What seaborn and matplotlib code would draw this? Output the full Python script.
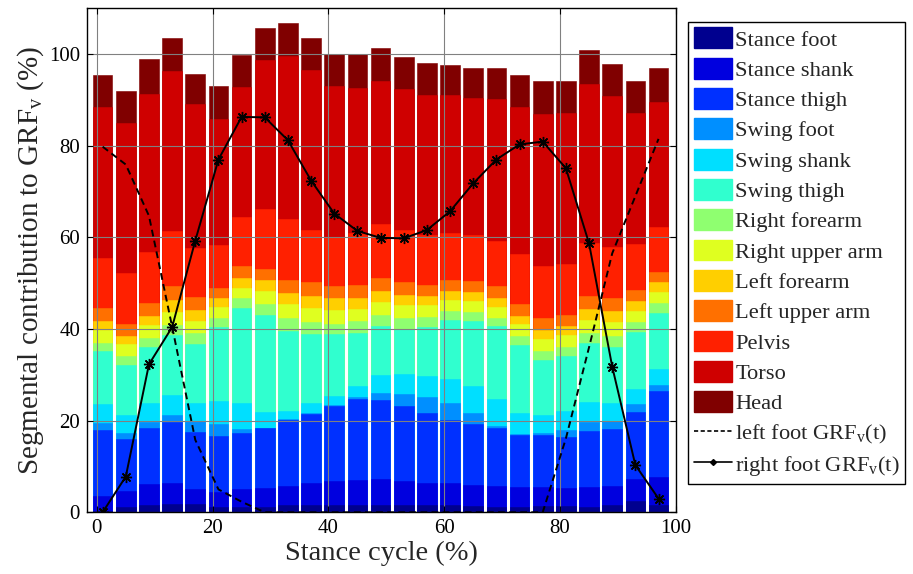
import numpy as np
import pandas as pd
import matplotlib
matplotlib.use("Agg")
import matplotlib.pyplot as plt
import seaborn as sns
from matplotlib.patches import Patch
from matplotlib.lines import Line2D

# ---------------- data ----------------
stance_cycle = [1, 5, 9, 13, 17, 21, 25, 29, 33, 37, 41, 45, 49,
                53, 57, 61, 65, 69, 73, 77, 81, 85, 89, 93, 97]

segment_names = ["Stance foot", "Stance shank", "Stance thigh", "Swing foot",
                 "Swing shank", "Swing thigh", "Right forearm", "Right upper arm",
                 "Left forearm", "Left upper arm", "Pelvis", "Torso", "Head"]

# cumulative level (%) reached at the top of each segment
level_stance_foot = [0.3, 1.2, 1.6, 1.8, 1.8, 1.2, 1.2, 1.2, 1.5, 1.5, 1.7, 1.6, 1.7,
                     1.6, 1.6, 1.6, 1.4, 1.2, 1.1, 1.4, 1.3, 1.2, 1.7, 2.5, 1.7]
level_stance_shank = [3.6, 4.7, 6.1, 6.3, 5.0, 4.5, 5.0, 5.4, 5.8, 6.5, 6.8, 7.1, 7.3,
                      6.8, 6.5, 6.3, 6.0, 5.7, 5.6, 5.6, 5.3, 5.6, 5.7, 7.3, 7.6]
level_stance_thigh = [17.9, 16.0, 18.3, 19.6, 17.6, 16.7, 17.2, 18.3, 20.1, 21.4, 23.3, 24.7, 24.5,
                      23.1, 21.6, 20.1, 19.3, 18.5, 16.9, 16.9, 16.4, 17.8, 18.2, 22.0, 26.5]
level_swing_foot = [19.5, 17.2, 19.8, 21.2, 20.0, 19.2, 18.1, 18.5, 20.3, 21.6, 23.4, 25.2, 26.1,
                    25.8, 25.2, 23.8, 21.6, 18.8, 17.0, 17.2, 18.0, 19.6, 20.0, 23.6, 27.8]
level_swing_shank = [23.6, 21.2, 23.9, 25.6, 23.9, 24.3, 23.8, 22.0, 22.2, 23.8, 25.4, 27.6, 30.0,
                     30.2, 29.8, 29.2, 27.6, 24.7, 21.6, 21.2, 22.1, 24.1, 23.9, 26.9, 31.2]
level_swing_thigh = [35.1, 32.2, 36.1, 38.8, 36.7, 40.4, 44.5, 43.1, 39.6, 38.9, 38.9, 39.2, 40.7,
                     40.1, 40.5, 42.0, 41.8, 40.7, 36.5, 33.2, 34.1, 36.9, 36.1, 39.4, 43.6]
level_right_forearm = [37.0, 34.1, 38.0, 40.9, 39.1, 42.3, 46.7, 45.5, 42.3, 41.5, 41.1, 41.7, 43.1,
                       42.5, 42.7, 43.9, 43.8, 42.5, 38.5, 35.1, 36.1, 39.1, 38.5, 41.5, 45.6]
level_right_upper_arm = [39.8, 36.7, 40.9, 43.8, 41.7, 44.7, 49.0, 48.2, 45.4, 44.5, 44.1, 44.4, 45.8,
                         45.2, 45.2, 46.3, 46.1, 44.9, 41.1, 37.8, 38.6, 42.0, 41.5, 43.9, 48.0]
level_left_forearm = [41.8, 38.5, 42.9, 46.3, 44.1, 46.7, 51.2, 50.6, 47.9, 47.3, 46.7, 46.8, 48.4,
                      47.4, 47.2, 48.3, 48.1, 46.8, 42.9, 39.8, 40.6, 44.4, 43.9, 46.1, 50.2]
level_left_upper_arm = [44.5, 41.0, 45.7, 49.5, 47.1, 49.0, 53.8, 53.2, 50.8, 50.2, 49.5, 49.6, 51.1,
                        50.2, 49.7, 50.7, 50.4, 49.4, 45.5, 42.3, 43.1, 47.3, 46.8, 48.5, 52.5]
level_pelvis = [55.5, 52.2, 56.8, 61.4, 57.7, 58.3, 64.4, 66.3, 64.0, 61.6, 60.1, 60.9, 62.9,
                61.6, 60.5, 61.0, 60.5, 59.2, 56.3, 53.7, 54.1, 58.8, 58.0, 58.5, 62.2]
level_torso = [88.4, 84.9, 91.2, 96.3, 89.2, 85.8, 92.9, 98.8, 99.6, 96.5, 93.0, 92.7, 94.1,
               92.5, 91.1, 91.1, 90.5, 90.3, 88.4, 86.9, 87.1, 93.5, 90.9, 87.1, 89.5]
level_head = [95.4, 91.9, 98.9, 103.6, 95.7, 93.1, 99.8, 105.8, 106.9, 103.6, 100.0, 100.0, 101.4,
              99.4, 98.0, 97.6, 97.0, 97.0, 95.4, 94.1, 94.2, 101.0, 97.8, 94.1, 96.9]

left_foot_grf = [79.8, 75.9, 64.7, 40.5, 15.8, 5.0, 2.3, 0.0, 0.0, 0.0, 0.0, 0.0, 0.0,
                 0.0, 0.0, 0.0, 0.0, 0.0, 0.0, 0.0, 16.1, 36.0, 56.5, 69.0, 81.5]
right_foot_grf = [0.0, 7.8, 32.3, 40.4, 59.3, 77.0, 86.3, 86.2, 81.2, 72.4, 65.2, 61.4, 59.9,
                  59.8, 61.6, 65.7, 71.8, 77.0, 80.3, 80.9, 75.1, 58.7, 31.8, 10.3, 3.0]

levels = [level_stance_foot, level_stance_shank, level_stance_thigh, level_swing_foot,
          level_swing_shank, level_swing_thigh, level_right_forearm, level_right_upper_arm,
          level_left_forearm, level_left_upper_arm, level_pelvis, level_torso, level_head]

# ---------------- style ----------------
sns.set_style("ticks")
plt.rcParams["font.family"] = ["Liberation Serif", "DejaVu Serif"]
plt.rcParams["mathtext.fontset"] = "custom"
plt.rcParams["mathtext.rm"] = "Liberation Serif"
plt.rcParams["mathtext.it"] = "Liberation Serif:italic"

# MATLAB jet(64) entries used for 13 bar series
colors = [(0, 0, 0.5625), (0, 0, 0.875), (0, 0.1875, 1), (0, 0.5625, 1),
          (0, 0.875, 1), (0.1875, 1, 0.8125), (0.5625, 1, 0.4375), (0.875, 1, 0.125),
          (1, 0.8125, 0), (1, 0.4375, 0), (1, 0.125, 0), (0.8125, 0, 0), (0.5, 0, 0)]

fig = plt.figure(figsize=(9.13, 5.74), dpi=100)
ax = fig.add_axes([0.0953, 0.1075, 0.645, 0.878])

# stacked bars: draw tallest cumulative level first, lower levels over it
for name, lev, col in reversed(list(zip(segment_names, levels, colors))):
    df = pd.DataFrame({"x": stance_cycle, "y": lev})
    sns.barplot(data=df, x="x", y="y", native_scale=True, width=0.85,
                color=col, saturation=1, errorbar=None, ax=ax,
                edgecolor=col, linewidth=0.4, zorder=1)

grf = pd.DataFrame({"x": stance_cycle, "left": left_foot_grf, "right": right_foot_grf})
sns.lineplot(data=grf, x="x", y="left", color="black", linestyle=(0, (3.5, 2.2)),
             linewidth=1.4, ax=ax, zorder=4, sort=False)
sns.lineplot(data=grf, x="x", y="right", color="black", linewidth=1.4,
             marker=(8, 2, 0), markersize=8, markeredgewidth=1.0,
             markeredgecolor="black", ax=ax, zorder=4, sort=False)

ax.set_xlim(-1.7, 100)
ax.set_ylim(0, 110)
ax.set_xticks([0, 20, 40, 60, 80, 100])
ax.set_yticks([0, 20, 40, 60, 80, 100])
ax.set_axisbelow(False)
ax.grid(True, color="#808080", linewidth=0.8)
for gl in ax.get_xgridlines() + ax.get_ygridlines():
    gl.set_zorder(2.5)
ax.tick_params(direction="in", length=4, width=0.8, top=True, right=True,
               labelsize=15, colors="black", pad=5)
for sp in ax.spines.values():
    sp.set_visible(True)
    sp.set_color("black")
    sp.set_linewidth(1.0)
    sp.set_zorder(5)

ax.set_xlabel("Stance cycle (%)", fontsize=20.5, labelpad=2)
ax.set_ylabel(r"Segmental contribution to GRF$_\mathrm{v}$ (%)", fontsize=21, labelpad=2)

handles = [Patch(facecolor=c, edgecolor=c) for c in colors]
handles.append(Line2D([], [], color="black", linestyle=(0, (2.5, 1.5)), linewidth=1.2))
handles.append(Line2D([], [], color="black", linewidth=1.2, marker="D", markersize=3))
labels = segment_names + [r"left foot GRF$_\mathrm{v}$(t)", r"right foot GRF$_\mathrm{v}$(t)"]
leg = fig.legend(handles, labels, loc="upper left", bbox_to_anchor=(0.7536, 0.962),
                 fontsize=16.2, frameon=True, fancybox=False, edgecolor="black",
                 framealpha=1, borderpad=0.25, labelspacing=0.32, handlelength=1.7,
                 handleheight=1.05, handletextpad=0.15, borderaxespad=0)
leg.get_frame().set_linewidth(1.0)

fig.savefig("out.png", dpi=100)
